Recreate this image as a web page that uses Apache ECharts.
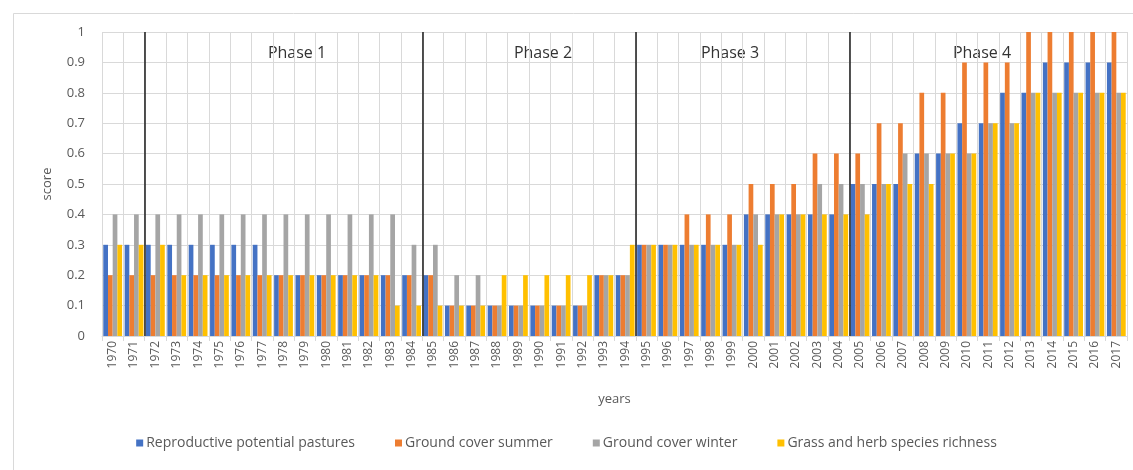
<!DOCTYPE html>
<html>
<head>
<meta charset="utf-8">
<script src="https://cdn.jsdelivr.net/npm/echarts@6/dist/echarts.min.js"></script>
<style>
html,body{margin:0;padding:0;background:#fff;}
#chart{width:1133px;height:470px;}
</style>
</head>
<body>
<div id="chart"></div>
<script>
var years = ['1970','1971','1972','1973','1974','1975','1976','1977','1978','1979','1980','1981','1982','1983','1984','1985','1986','1987','1988','1989','1990','1991','1992','1993','1994','1995','1996','1997','1998','1999','2000','2001','2002','2003','2004','2005','2006','2007','2008','2009','2010','2011','2012','2013','2014','2015','2016','2017'];

var reproductivePotential = [0.3,0.3,0.3,0.3,0.3,0.3,0.3,0.3,0.2,0.2,0.2,0.2,0.2,0.2,0.2,0.2,0.1,0.1,0.1,0.1,0.1,0.1,0.1,0.2,0.2,0.3,0.3,0.3,0.3,0.3,0.4,0.4,0.4,0.4,0.4,0.5,0.5,0.5,0.6,0.6,0.7,0.7,0.8,0.8,0.9,0.9,0.9,0.9];
var groundCoverSummer = [0.2,0.2,0.2,0.2,0.2,0.2,0.2,0.2,0.2,0.2,0.2,0.2,0.2,0.2,0.2,0.2,0.1,0.1,0.1,0.1,0.1,0.1,0.1,0.2,0.2,0.3,0.3,0.4,0.4,0.4,0.5,0.5,0.5,0.6,0.6,0.6,0.7,0.7,0.8,0.8,0.9,0.9,0.9,1,1,1,1,1];
var groundCoverWinter = [0.4,0.4,0.4,0.4,0.4,0.4,0.4,0.4,0.4,0.4,0.4,0.4,0.4,0.4,0.3,0.3,0.2,0.2,0.1,0.1,0.1,0.1,0.1,0.2,0.2,0.3,0.3,0.3,0.3,0.3,0.4,0.4,0.4,0.5,0.5,0.5,0.5,0.6,0.6,0.6,0.6,0.7,0.7,0.8,0.8,0.8,0.8,0.8];
var speciesRichness = [0.3,0.3,0.3,0.2,0.2,0.2,0.2,0.2,0.2,0.2,0.2,0.2,0.2,0.1,0.1,0.1,0.1,0.1,0.2,0.2,0.2,0.2,0.2,0.2,0.3,0.3,0.3,0.3,0.3,0.3,0.3,0.4,0.4,0.4,0.4,0.4,0.5,0.5,0.5,0.6,0.6,0.7,0.7,0.8,0.8,0.8,0.8,0.8];

var seriesNames = ['Reproductive potential pastures','Ground cover summer','Ground cover winter','Grass and herb species richness'];
var phaseLabels = ['Phase 1','Phase 2','Phase 3','Phase 4'];
// phase boundaries expressed as category index where each phase starts
var phaseStartIndex = [2, 15, 25, 35];

var colors = ['#4472C4','#ED7D31','#A5A5A5','#FFC000'];
var FONT = 'Open Sans';
var txt = '#595959';

var chart = echarts.init(document.getElementById('chart'), null, {renderer:'canvas'});

function barSeries(name, data, color){
  return {
    name: name, type: 'bar', data: data,
    xAxisIndex: 0, yAxisIndex: 0,
    barGap: '0%', barCategoryGap: '12%',
    itemStyle: {color: color},
    emphasis: {disabled: true},
    animation: false
  };
}

var series = [
  barSeries(seriesNames[0], reproductivePotential, colors[0]),
  barSeries(seriesNames[1], groundCoverSummer, colors[1]),
  barSeries(seriesNames[2], groundCoverWinter, colors[2]),
  barSeries(seriesNames[3], speciesRichness, colors[3]),
  {
    name: 'phases', type: 'scatter', xAxisIndex: 1, yAxisIndex: 0,
    data: [], silent: true, animation: false,
    markLine: {
      silent: true, symbol: ['none','none'], animation: false,
      lineStyle: {color: '#1a1a1a', width: 1.5, type: 'solid'},
      label: {show: false},
      data: phaseStartIndex.map(function(v){ return {xAxis: v}; })
    }
  }
];

var option = {
  backgroundColor: '#fff',
  animation: false,
  color: colors,
  grid: {left: 102, right: 6, top: 32, bottom: 134, containLabel: false},
  legend: {
    data: seriesNames,
    bottom: 15, left: 'center',
    itemWidth: 7, itemHeight: 7, itemGap: 40,
    icon: 'rect',
    textStyle: {fontFamily: FONT, fontSize: 14, color: txt, padding: [0,0,0,-2]}
  },
  xAxis: [{
    type: 'category', data: years,
    name: 'years', nameLocation: 'middle', nameGap: 57,
    nameTextStyle: {fontFamily: FONT, fontSize: 13, color: txt},
    axisLine: {show: true, lineStyle: {color: '#D9D9D9'}},
    axisTick: {show: true, length: 5, lineStyle: {color: '#D9D9D9'}, interval: 0},
    axisLabel: {rotate: 90, interval: 0, fontFamily: FONT, fontSize: 12, color: txt, margin: 5},
    splitLine: {show: true, interval: 0, lineStyle: {color: '#D9D9D9', width: 1}}
  },{
    type: 'value', min: 0, max: 48, show: false
  }],
  yAxis: [{
    type: 'value', min: 0, max: 1, interval: 0.1,
    name: 'score', nameLocation: 'middle', nameGap: 48,
    nameTextStyle: {fontFamily: FONT, fontSize: 13, color: txt},
    axisLine: {show: false}, axisTick: {show: false},
    axisLabel: {fontFamily: FONT, fontSize: 13, color: txt, margin: 17},
    splitLine: {lineStyle: {color: '#D9D9D9', width: 1}}
  }],
  graphic: [
    {type: 'rect', left: 11, top: 11, shape: {width: 1140, height: 480}, style: {fill: 'none', stroke: '#D9D9D9', lineWidth: 1}, silent: true, z: -10},
    {type: 'text', x: 297, y: 53, style: {text: phaseLabels[0], font: '16px "Open Sans"', fill: '#333333', textAlign: 'center', textVerticalAlign: 'middle'}},
    {type: 'text', x: 543, y: 53, style: {text: phaseLabels[1], font: '16px "Open Sans"', fill: '#333333', textAlign: 'center', textVerticalAlign: 'middle'}},
    {type: 'text', x: 730, y: 53, style: {text: phaseLabels[2], font: '16px "Open Sans"', fill: '#333333', textAlign: 'center', textVerticalAlign: 'middle'}},
    {type: 'text', x: 982, y: 53, style: {text: phaseLabels[3], font: '16px "Open Sans"', fill: '#333333', textAlign: 'center', textVerticalAlign: 'middle'}}
  ],
  series: series
};
chart.setOption(option);
</script>
</body>
</html>
